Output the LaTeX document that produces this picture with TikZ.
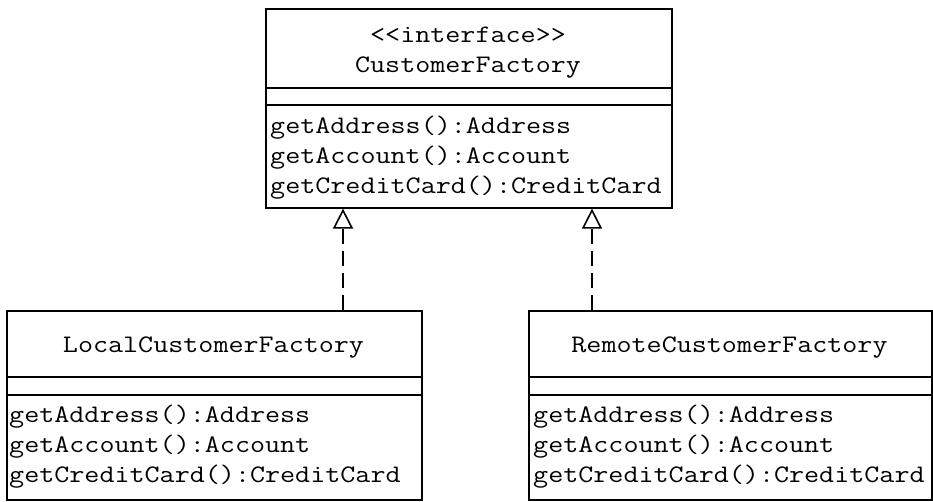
\documentclass[tikz,border=0pt]{standalone}
\usepackage{fontspec}
\newfontfamily\umlmono[FakeStretch=1.16]{Latin Modern Mono}
\usetikzlibrary{arrows.meta}
\tikzset{
  classbox/.style={draw, line width=1.6pt, inner sep=0pt, anchor=north west},
  divider/.style={line width=1.6pt},
  txt/.style={font=\umlmono\fontsize{25.2}{30}\selectfont, inner sep=0pt},
  meth/.style={txt, anchor=base west},
  ttl/.style={txt, anchor=base},
  realize/.style={line width=1.6pt, dash pattern=on 15pt off 7pt,
    -{Triangle[open, length=20pt, width=20pt, line width=1.6pt]}}
}
\begin{document}
\begin{tikzpicture}[x=1pt, y=-1pt]
\useasboundingbox[fill=white] (0,0) rectangle (933,501);
% top interface
\node[classbox, minimum width=406pt, minimum height=199pt] (top) at (265,8) {};
\draw[divider] (265,88) -- (671,88);
\draw[divider] (265,105) -- (671,105);
\node[ttl] (topst) at (468,42) {<<interface>>};
\node[ttl] (topname) at (468,72) {CustomerFactory};
\node[meth] (tm1) at (270,133) {getAddress():Address};
\node[meth] (tm2) at (270,163) {getAccount():Account};
\node[meth] (tm3) at (270,193) {getCreditCard():CreditCard};
% left class
\node[classbox, minimum width=415pt, minimum height=189pt] (local) at (6,310) {};
\draw[divider] (6,377) -- (421,377);
\draw[divider] (6,395) -- (421,395);
\node[ttl] (localname) at (213.5,352) {LocalCustomerFactory};
\node[meth] (lm1) at (9,422) {getAddress():Address};
\node[meth] (lm2) at (9,452) {getAccount():Account};
\node[meth] (lm3) at (9,482) {getCreditCard():CreditCard};
% right class
\node[classbox, minimum width=403pt, minimum height=189pt] (remote) at (528,310) {};
\draw[divider] (528,377) -- (931,377);
\draw[divider] (528,395) -- (931,395);
\node[ttl] (remotename) at (729.5,352) {RemoteCustomerFactory};
\node[meth] (rm1) at (533,422) {getAddress():Address};
\node[meth] (rm2) at (533,452) {getAccount():Account};
\node[meth] (rm3) at (533,482) {getCreditCard():CreditCard};
% realizations
\coordinate (la) at (343,310);
\coordinate (ra) at (592,310);
\draw[realize] (la) -- (la |- top.south);
\draw[realize] (ra) -- (ra |- top.south);
\end{tikzpicture}
\end{document}
